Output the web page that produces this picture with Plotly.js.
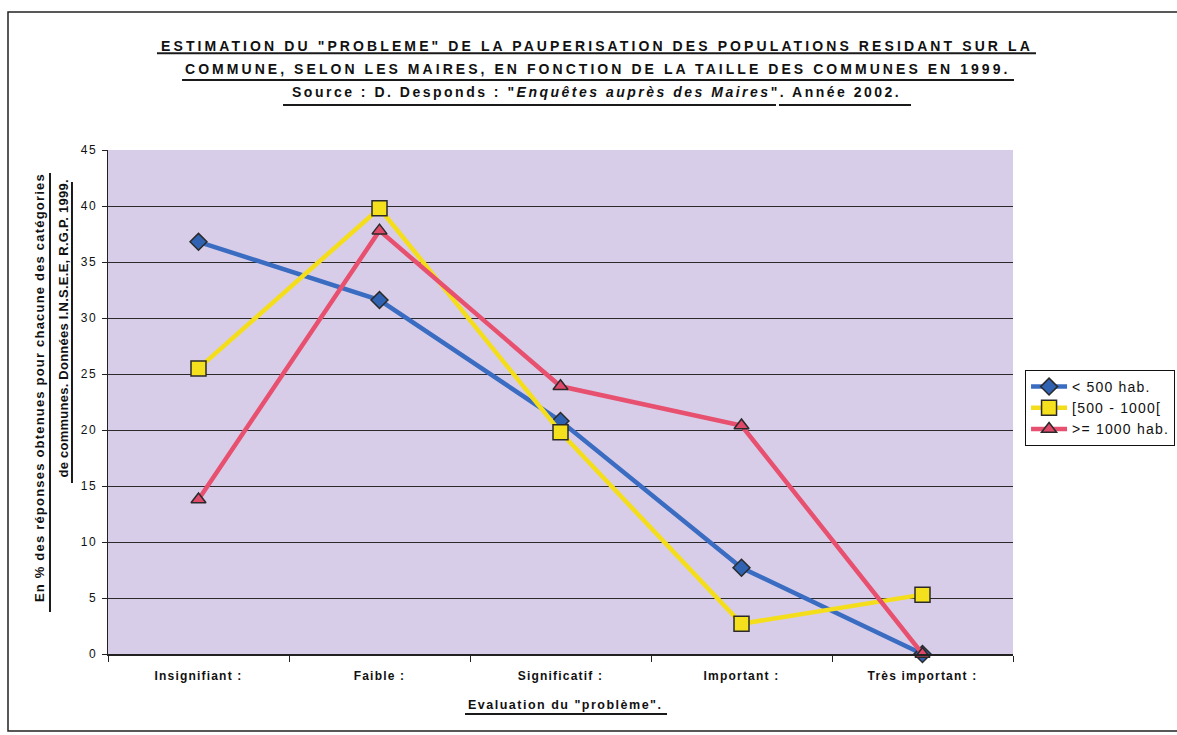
<!DOCTYPE html>
<html><head><meta charset="utf-8">
<script src="https://cdn.plot.ly/plotly-3.0.1.min.js"></script>
<style>html,body{margin:0;padding:0;background:#fff}</style>
</head><body>
<div id="chart" style="width:1177px;height:735px"></div>
<script>
const categories = ["Insignifiant :", "Faible :", "Significatif :", "Important :", "Très important :"];
const seriesNames = ["< 500 hab.", "[500 - 1000[", ">= 1000 hab."];
const moins500 = [36.8, 31.6, 20.8, 7.7, 0];
const de500a1000 = [25.5, 39.8, 19.8, 2.7, 5.3];
const plus1000 = [13.8, 37.8, 23.9, 20.4, 0];
const yTicks = [0, 5, 10, 15, 20, 25, 30, 35, 40, 45];
const titleLines = [
  "ESTIMATION DU \"PROBLEME\" DE LA PAUPERISATION DES POPULATIONS RESIDANT SUR LA",
  "COMMUNE, SELON LES MAIRES, EN FONCTION DE LA TAILLE DES COMMUNES EN 1999.",
  "Source : D. Desponds : \"<i>Enquêtes auprès des Maires</i>\". Année 2002."
];
const yTitleLines = [
  "En % des réponses obtenues pour chacune des catégories",
  "de communes. Données I.N.S.E.E, R.G.P. 1999."
];
const xTitle = "Evaluation du \"problème\".";

const font = "Liberation Sans, Arial, sans-serif";
const sp = (t, ls) => `<span style="letter-spacing:${ls}px">${t}</span>`;

function tr(name, y, lineColor, symbol, fill) {
  return {
    type: "scatter", mode: "lines+markers", name: sp(name, 1.2),
    x: categories, y: y, cliponaxis: false,
    line: {color: lineColor, width: 4.5},
    marker: {symbol: symbol, size: symbol === "square" ? 15 : 13, color: fill, line: {color: "#2a2a2a", width: 1.5}}
  };
}
const data = [
  tr(seriesNames[0], moins500, "#3a6cc2", "diamond", "#2f62b0"),
  tr(seriesNames[1], de500a1000, "#f4de1c", "square", "#f4e01c"),
  tr(seriesNames[2], plus1000, "#e8506f", "triangle-up", "#e0486a")
];
const ann = (text, x, y, size, ls, angle) => ({
  xref: "paper", yref: "paper", x: x, y: y, xanchor: "center", yanchor: "middle",
  textangle: angle || 0, showarrow: false,
  text: "<b>" + sp(text, ls) + "</b>",
  font: {family: font, size: size, color: "#111"}
});
const uline = (x0, y0, x1, y1) => ({
  type: "line", xref: "paper", yref: "paper", x0: x0, y0: y0, x1: x1, y1: y1,
  line: {color: "#1a1a1a", width: 2}
});
const layout = {
  width: 1177, height: 735,
  margin: {l: 108, r: 164, t: 150, b: 81},
  paper_bgcolor: "#ffffff", plot_bgcolor: "#d8cde8",
  font: {family: font, color: "#111"},
  showlegend: true,
  xaxis: {
    type: "category", range: [-0.5, 4.5],
    tickvals: categories, ticktext: categories.map(c => "<b>" + sp(c, 1.2) + "</b>"),
    showline: true, linecolor: "#222", linewidth: 1.5, mirror: false,
    ticks: "outside", tickson: "boundaries", ticklen: 6, tickcolor: "#222",
    ticklabelstandoff: 10,
    showgrid: false, zeroline: false,
    tickfont: {family: font, size: 12, color: "#111"}
  },
  yaxis: {
    range: [0, 45], tickvals: yTicks, ticktext: yTicks.map(v => sp(String(v), 1.5)),
    showline: true, linecolor: "#222", linewidth: 1.5,
    ticks: "outside", ticklen: 5, tickcolor: "#222", ticklabelstandoff: 2,
    showgrid: true, gridcolor: "#2a2a2a", gridwidth: 1, zeroline: false,
    tickfont: {family: font, size: 12, color: "#111"}
  },
  legend: {
    xref: "container", yref: "container",
    x: 0.8709, xanchor: "left", y: 0.4966, yanchor: "top",
    bgcolor: "#ffffff", bordercolor: "#111", borderwidth: 1,
    font: {family: font, size: 14, color: "#111"},
    tracegroupgap: 0, itemwidth: 36
  },
  annotations: [
    ann(titleLines[0], 0.5403, 1.2073, 14, 3.1),
    ann(titleLines[1], 0.5414, 1.1607, 14, 3.05),
    ann(titleLines[2], 0.5398, 1.1141, 14, 2.5),
    ann(yTitleLines[0], -0.0751, 0.5278, 13, 1.2, -90),
    ann(yTitleLines[1], -0.0497, 0.6458, 13, 0.25, -90),
    ann(xTitle, 0.506, -0.1012, 12.5, 1.5)
  ],
  shapes: [
    {type: "rect", xref: "paper", yref: "paper", x0: -0.1105, x1: 1.19, y0: -0.153, y1: 1.274,
     line: {color: "#222", width: 1.5}, fillcolor: "rgba(0,0,0,0)", layer: "below"},
    uline(0.0541, 1.1919, 1.0254, 1.1919),
    uline(0.0818, 1.1389, 1.0011, 1.1389),
    uline(0.1934, 1.0893, 0.7381, 1.0893),
    uline(0.7414, 1.0893, 0.8873, 1.0893),
    uline(-0.0641, 0.0833, -0.0641, 0.9544),
    uline(-0.0398, 0.3393, -0.0398, 0.9365),
    uline(0.3945, -0.119, 0.6177, -0.119)
  ]
};
Plotly.newPlot("chart", data, layout, {displayModeBar: false, staticPlot: true});
</script>
</body></html>
